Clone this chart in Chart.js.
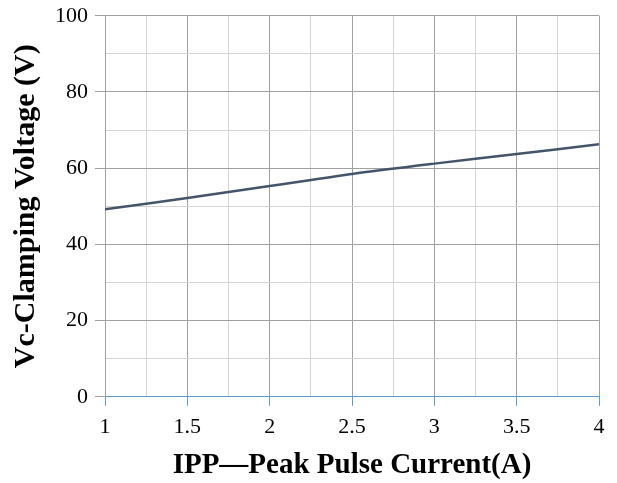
<!DOCTYPE html>
<html>
<head>
<meta charset="utf-8">
<script src="https://cdn.jsdelivr.net/npm/chart.js@4.4.0/dist/chart.umd.min.js"></script>
<style>
  html, body { margin: 0; padding: 0; background: #fff; }
  #wrap { width: 617px; height: 483px; position: relative; }
</style>
</head>
<body>
<div id="wrap"><canvas id="c"></canvas></div>
<script>
(function() {
  'use strict';

  // IPP (A) vs clamping voltage (V)
  var currents = [1, 1.5, 2, 2.5, 3, 3.5, 4];
  var voltages = [49.2, 52.2, 55.3, 58.5, 61.2, 63.7, 66.3];

  var xTitle = 'IPP\u2014Peak Pulse Current(A)';
  var yTitle = 'Vc-Clamping Voltage (V)';

  var AXIS_BLUE = '#5b9bd5';
  var MAJOR = '#a0a0a0';
  var MINOR = '#d4d4d4';
  var SERIF = "'Liberation Serif', 'Times New Roman', serif";

  function isMajorX(v) { return Math.abs(v * 2 - Math.round(v * 2)) < 1e-6; }
  function isMajorY(v) { return v % 20 === 0; }

  var points = currents.map(function(x, i) { return { x: x, y: voltages[i] }; });

  new Chart(document.getElementById('c'), {
    type: 'line',
    data: {
      datasets: [{
        data: points,
        borderColor: '#44546a',
        borderWidth: 2.5,
        pointRadius: 0,
        tension: 0.3,
        fill: false
      }]
    },
    options: {
      responsive: true,
      maintainAspectRatio: false,
      animation: false,
      layout: { padding: { top: 1, right: 18, left: 8, bottom: 0 } },
      plugins: { legend: { display: false }, tooltip: { enabled: false } },
      scales: {
        x: {
          type: 'linear',
          min: 1,
          max: 4,
          border: { display: true, color: AXIS_BLUE, width: 1 },
          grid: {
            color: function(ctx) { return isMajorX(ctx.tick.value) ? MAJOR : MINOR; },
            tickColor: function(ctx) { return isMajorX(ctx.tick.value) ? AXIS_BLUE : 'rgba(0,0,0,0)'; },
            tickLength: 9,
            lineWidth: 1
          },
          ticks: {
            stepSize: 0.25,
            autoSkip: false,
            maxRotation: 0,
            color: '#000',
            padding: 8,
            font: { family: SERIF, size: 22 },
            callback: function(v) { return isMajorX(v) ? String(v) : ''; }
          },
          title: {
            display: true,
            text: xTitle,
            color: '#000',
            padding: { top: 0, bottom: 0 },
            font: { family: SERIF, size: 29, weight: 'bold' }
          }
        },
        y: {
          min: 0,
          max: 100,
          border: { display: true, color: MAJOR, width: 1 },
          grid: {
            color: function(ctx) {
              if (ctx.tick.value === 0) return AXIS_BLUE;
              return isMajorY(ctx.tick.value) ? MAJOR : MINOR;
            },
            tickColor: function(ctx) { return isMajorY(ctx.tick.value) ? MAJOR : 'rgba(0,0,0,0)'; },
            tickLength: 10,
            lineWidth: 1
          },
          ticks: {
            stepSize: 10,
            autoSkip: false,
            color: '#000',
            padding: 7,
            font: { family: SERIF, size: 22, lineHeight: 0.8 },
            callback: function(v) { return isMajorY(v) ? String(v) : ''; }
          },
          title: {
            display: true,
            text: yTitle,
            color: '#000',
            padding: { top: 0, bottom: 4 },
            font: { family: SERIF, size: 30, weight: 'bold' }
          }
        }
      }
    }
  });
})();
</script>
</body>
</html>
